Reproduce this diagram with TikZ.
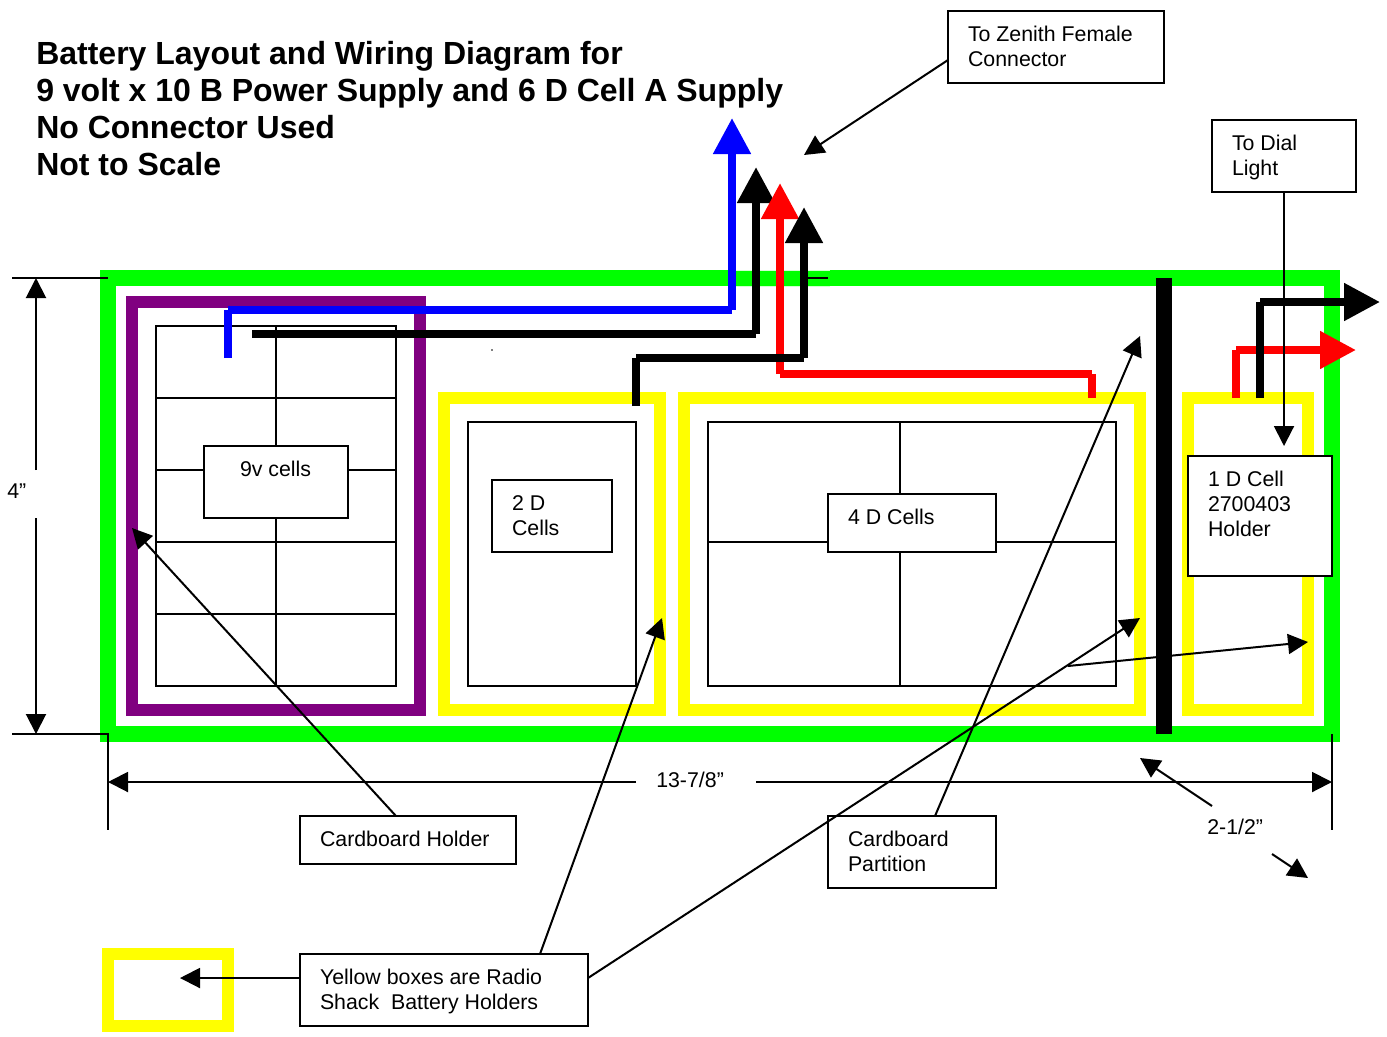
\documentclass[tikz,border=0pt]{standalone}
\usepackage{fontspec}
\setmainfont{Liberation Sans}
\usetikzlibrary{arrows.meta}
\definecolor{gr}{RGB}{0,255,0}
\definecolor{pu}{RGB}{128,0,128}
\definecolor{ye}{RGB}{255,255,0}
\definecolor{bl}{RGB}{0,0,255}
\definecolor{re}{RGB}{255,0,0}
\newcommand{\bt}[3]{\parbox[t][\dimexpr #2pt*3/4\relax][t]{\dimexpr(#1pt-40pt)*3/4\relax}{\fontsize{16}{18.75}\selectfont\rule{0pt}{22.5pt}#3}}
\tikzset{
  x=0.75pt,y=-0.75pt,
  ring/.style={draw=#1,line cap=butt,line join=miter},
  outerring/.style={ring=gr,line width=12pt},
  holderring/.style={ring=pu,line width=9pt},
  yellowring/.style={ring=ye,line width=9pt},
  grid/.style={draw=black,line width=1.5pt},
  tb/.style={draw=black,fill=white,line width=1.5pt,inner xsep=15pt,inner ysep=0pt,outer sep=0pt,anchor=north west},
  wire/.style={draw=#1,line width=6pt,line cap=butt,-{Triangle[length=27pt,width=27pt,fill=#1]}},
  thin/.style={draw=black,line width=1.5pt,-{Triangle[length=15pt,width=15pt]}},
  plain/.style={draw=black,line width=1.5pt},
  lab/.style={font=\fontsize{16}{18.75}\selectfont,inner sep=0pt,anchor=base west},
}
\begin{document}
\begin{tikzpicture}
\useasboundingbox (0,0) rectangle (1387,1036);
% enclosure and holders
\draw[outerring] (108,278) rectangle (1332,734);
\draw[draw=gr!18,line width=0.75pt] (732,270.5) -- (830,270.5) (732,286.5) -- (830,286.5);
\draw[holderring] (132,302) rectangle (420,710);
\draw[yellowring] (444,398) rectangle (660,710);
\draw[yellowring] (684,398) rectangle (1140,710);
\draw[yellowring] (1188,398) rectangle (1308,710);
\draw[yellowring] (108,954) rectangle (228,1026);
% cell grids
\draw[grid] (156,326) rectangle (396,686);
\draw[grid] (276,326) -- (276,686) (156,398) -- (396,398) (156,470) -- (396,470) (156,542) -- (396,542) (156,614) -- (396,614);
\draw[grid] (468,422) rectangle (636,686);
\draw[grid] (708,422) rectangle (1116,686);
\draw[grid] (900,422) -- (900,686) (708,542) -- (1116,542);
% partition
\draw[draw=black,line width=12pt] (1164,278) -- (1164,734);
\draw[plain] (806,278) -- (828,278);
\fill (492,350) circle (0.9);
% text boxes
\node[tb] (cells9) at (204,446) {\bt{144}{72}{\hspace*{12pt}9v cells}};
\node[tb] (cells2) at (492,480) {\bt{120}{72}{2 D\\Cells}};
\node[tb] (cells4) at (828,494) {\bt{168}{58}{4 D Cells}};
\node[tb] (cell1) at (1188,456) {\bt{144}{120}{1 D Cell\\2700403\\Holder}};
\node[tb] (zenith) at (948,11) {\bt{216}{72}{To Zenith Female\\Connector}};
\node[tb] (dial) at (1212,120) {\bt{144}{72}{To Dial\\Light}};
\node[tb] (holder) at (300,816) {\bt{216}{48}{Cardboard Holder}};
\node[tb] (partition) at (828,816) {\bt{168}{72}{Cardboard\\Partition}};
\node[tb] (yellow) at (300,954) {\bt{288}{72}{Yellow boxes are Radio\\Shack\ \ Battery Holders}};
% title
\node[inner sep=0pt,anchor=north west,align=left,font=\fontsize{24}{27.75}\selectfont\bfseries] (title) at (36,41) {Battery Layout and Wiring Diagram for\\9 volt x 10 B Power Supply and 6 D Cell A Supply\\No Connector Used\\Not to Scale};
% wire end points
\coordinate (b1) at (228,358); \coordinate (b2) at (228,310); \coordinate (b3) at (732,310); \coordinate (b4) at (732,118);
\coordinate (k1) at (252,334); \coordinate (k2) at (756,334); \coordinate (k3) at (756,167);
\coordinate (r1) at (1092,398); \coordinate (r2) at (1092,374); \coordinate (r3) at (780,374); \coordinate (r4) at (780,183);
\coordinate (m1) at (636,406); \coordinate (m2) at (636,358); \coordinate (m3) at (804,358); \coordinate (m4) at (804,207);
\coordinate (n1) at (1260,398); \coordinate (n2) at (1260,302); \coordinate (n3) at (1380,302);
\coordinate (s1) at (1236,398); \coordinate (s2) at (1236,350); \coordinate (s3) at (1356,350);
% wires
\draw[wire=bl] (b1) -- (b2) (b2) -- (b3) (b3) -- (b4);
\draw[wire=black] (k1) -- (k2) (k2) -- (k3);
\draw[wire=re] (r1) -- (r2) (r2) -- (r3) (r3) -- (r4);
\draw[wire=black] (m1) -- (m2) (m2) -- (m3) (m3) -- (m4);
\draw[wire=re] (s1) -- (s2) (s2) -- (s3);
\draw[wire=black] (n1) -- (n2) (n2) -- (n3);
% dimension labels
\node[lab] (dimh) at (7,498) {4”};
\node[lab] (dimw) at (656,787) {13-7/8”};
\node[lab] (dimd) at (1207,834) {2-1/2”};
% dimension coordinates
\coordinate (h1) at (36,470); \coordinate (h2) at (36,278); \coordinate (h3) at (36,518); \coordinate (h4) at (36,734);
\coordinate (e1) at (12,278); \coordinate (e2) at (108,278); \coordinate (e3) at (12,734); \coordinate (e4) at (108,734); \coordinate (e5) at (108,830);
\coordinate (e6) at (1332,734); \coordinate (e7) at (1332,830);
\coordinate (w1) at (636,782); \coordinate (w2) at (108,782); \coordinate (w3) at (756,782); \coordinate (w4) at (1332,782);
\coordinate (d1) at (1212,806); \coordinate (d2) at (1140,758); \coordinate (d3) at (1272,854); \coordinate (d4) at (1308,878);
\draw[plain] (e1) -- (e2) (e3) -- (e4) -- (e5) (e6) -- (e7);
\draw[thin] (h1) -- (h2);
\draw[thin] (h3) -- (h4);
\draw[thin] (w1) -- (w2);
\draw[thin] (w3) -- (w4);
\draw[thin] (d1) -- (d2);
\draw[thin] (d3) -- (d4);
% callouts
\coordinate (z1) at (948,60); \coordinate (z2) at (804,155);
\coordinate (l1) at (1284,192); \coordinate (l2) at (1284,446);
\coordinate (c1) at (396,816); \coordinate (c2) at (132,528);
\coordinate (p1) at (935,816); \coordinate (p2) at (1140,336);
\coordinate (y1) at (540,954); \coordinate (y2) at (662,618);
\coordinate (y3) at (588,978); \coordinate (y4) at (1140,618);
\coordinate (y5) at (1068,666); \coordinate (y6) at (1308,642);
\coordinate (y7) at (300,978); \coordinate (y8) at (180,978);
\draw[thin] (z1) -- (z2);
\draw[thin] (l1) -- (l2);
\draw[thin] (c1) -- (c2);
\draw[thin] (p1) -- (p2);
\draw[thin] (y1) -- (y2);
\draw[thin] (y3) -- (y4);
\draw[thin] (y5) -- (y6);
\draw[thin] (y7) -- (y8);
\end{tikzpicture}
\end{document}
